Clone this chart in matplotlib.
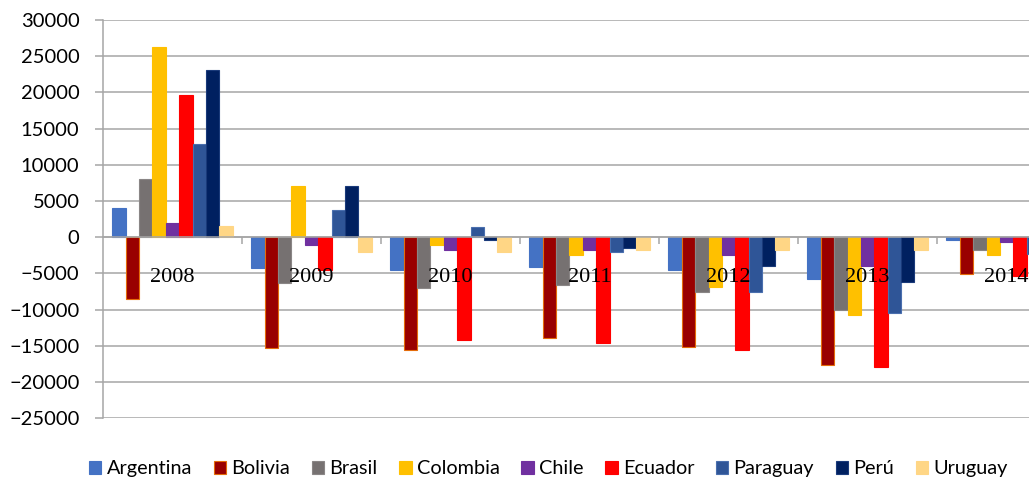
import numpy as np
import matplotlib.pyplot as plt

# Balance per year and country
years = ['2008', '2009', '2010', '2011', '2012', '2013', '2014']
countries = ['Argentina', 'Bolivia', 'Brasil', 'Colombia', 'Chile',
             'Ecuador', 'Paraguay', 'Perú', 'Uruguay']

argentina = [4100, -4300, -4500, -4100, -4500, -5700, -400]
bolivia = [-8500, -15300, -15600, -13900, -15100, -17700, -5100]
brasil = [8100, -6300, -7000, -6600, -7500, -10000, -1700]
colombia = [26300, 7100, -1000, -2500, -6800, -10700, -2400]
chile = [2000, -1100, -1800, -1700, -2500, -3900, -600]
ecuador = [19600, -4500, -14200, -14600, -15600, -17900, -5300]
paraguay = [12900, 3700, 1400, -2000, -7500, -10500, -2300]
peru = [23100, 7100, -400, -1500, -3900, -6200, np.nan]
uruguay = [1600, -2000, -2000, -1700, -1700, -1800, np.nan]

series = [argentina, bolivia, brasil, colombia, chile,
          ecuador, paraguay, peru, uruguay]

colors = ['#4472C4', '#990000', '#767171', '#FFC000', '#7030A0',
          '#FF0000', '#2F5597', '#002060', '#FFD685']
edges = ['#4472C4', '#E46C0A', '#8a8686', '#FFC000', '#7030A0',
         '#FF0000', '#4a6fae', '#1a3a7a', '#FFD685']

grid_grey = '#A6A6A6'
yticks = np.arange(-25000, 30001, 5000)

fig = plt.figure(figsize=(10.29, 4.8), dpi=100)
# axes run past the right edge of the figure, so the last group is cut
ax = fig.add_axes([0.1001, 0.1285, 0.9456, 0.8298])

# gridlines drawn by hand so the year labels can sit above the bars
for yv in yticks:
    ax.axhline(yv, color=grid_grey, linewidth=1.1, zorder=0)

x = np.arange(len(years))
w = 0.096
for j, (vals, c, ec) in enumerate(zip(series, colors, edges)):
    ax.bar(x + (j - 4) * w, vals, width=w, color=c, edgecolor=ec,
           linewidth=0.8, label=countries[j], zorder=2)

ax.set_axisbelow(False)
ax.set_xlim(-0.5, len(years) - 0.5)
ax.set_ylim(-25000, 30000)
ax.set_yticks(yticks)

ax.spines['top'].set_visible(False)
ax.spines['right'].set_visible(False)
ax.spines['left'].set_color(grid_grey)
ax.spines['left'].set_linewidth(1.1)
ax.spines['bottom'].set_position(('data', 0))
ax.spines['bottom'].set_color(grid_grey)
ax.spines['bottom'].set_linewidth(1.1)

ax.set_xticks(x)
ax.set_xticklabels(years, family='Liberation Serif', fontsize=16)
ax.set_xticks(np.arange(0.5, len(years) - 0.5), minor=True)
ax.tick_params(axis='x', which='major', length=0, pad=22)
ax.tick_params(axis='x', which='minor', length=5, color=grid_grey, width=1.1)

ax.tick_params(axis='y', length=6, color=grid_grey, width=1.1, pad=11,
               labelsize=14.5)
for lab in ax.get_yticklabels():
    lab.set_family('Lato')

fig.legend(loc='center', bbox_to_anchor=(0.533, 0.023), ncol=9,
           frameon=False, prop={'family': 'Lato', 'size': 14.3},
           handlelength=0.62, handleheight=0.68, handletextpad=0.26,
           columnspacing=1.1, borderaxespad=0, borderpad=0)

fig.savefig('out.png', dpi=100)
